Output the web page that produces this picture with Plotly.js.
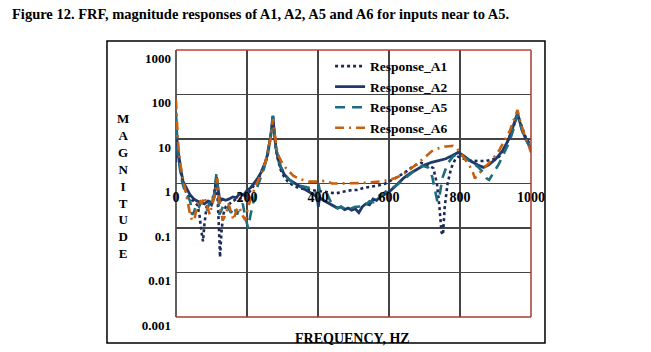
<!DOCTYPE html>
<html>
<head>
<meta charset="utf-8">
<script src="https://cdn.plot.ly/plotly-3.0.1.min.js"></script>
<style>html,body{margin:0;padding:0;background:#fff;}#chart{width:651px;height:352px;}</style>
</head>
<body>
<div id="chart"></div>
<script>
// ---- data ----
const seriesNames = ['Response_A1', 'Response_A2', 'Response_A5', 'Response_A6'];
const xTickVals = [0, 200, 400, 600, 800, 1000];
const yTickVals = [0.001, 0.01, 0.1, 1, 10, 100, 1000];
const yTickText = ['0.001', '0.01', '0.1', '1', '10', '100', '1000'];

const freqA1 = [0,2,5,10,15,20,30,40,50,60,66,72,76,80,86,95,105,112,117,121,124,128,133,140,150,160,170,180,190,200,210,220,230,240,250,258,264,268,271,273,275,278,282,288,295,305,315,330,345,360,375,390,410,430,450,470,490,510,530,550,570,590,610,630,650,670,690,710,725,735,742,748,752,757,765,775,785,795,810,830,850,870,890,910,925,940,950,957,962,968,975,985,1000];
const magA1  = [5,12,6,2.5,1.5,1.0,0.6,0.45,0.4,0.33,0.2,0.08,0.05,0.12,0.3,0.4,0.5,1.0,0.5,0.1,0.022,0.08,0.2,0.3,0.35,0.4,0.45,0.45,0.5,0.55,0.7,0.9,1.2,1.7,2.6,4.2,7.5,13,22,30,19,10,5.5,3.2,2.0,1.4,1.1,0.9,0.8,0.75,0.72,0.7,0.68,0.62,0.6,0.65,0.7,0.72,0.8,0.85,0.9,1.0,1.2,1.5,1.9,2.5,2.9,2.6,2.2,1.0,0.3,0.08,0.07,0.3,1.0,2.2,3.3,4.0,3.6,3.3,3.2,3.2,3.4,4.0,6,11,18,28,38,26,18,11,7];

const freqA2 = [0,2,5,10,15,20,30,40,50,60,70,80,90,100,108,114,118,124,130,140,150,160,170,180,190,200,210,220,230,240,250,258,264,268,271,273,275,278,282,288,295,305,320,345,375,390,398,401,404,415,425,435,445,455,465,475,485,495,505,515,525,535,545,555,565,575,585,595,605,620,640,660,680,700,720,740,760,780,795,810,830,850,866,880,900,920,935,945,955,962,968,975,985,1000];
const magA2  = [3,11,6,3,1.8,1.1,0.75,0.55,0.45,0.4,0.38,0.35,0.4,0.33,0.5,1.4,0.8,0.4,0.45,0.42,0.45,0.5,0.48,0.6,0.55,0.7,0.8,1.0,1.3,1.8,2.8,4.5,8,14,24,33,20,11,6,3.5,2.3,1.6,1.2,0.9,0.65,0.55,0.5,0.3,0.48,0.42,0.38,0.33,0.3,0.28,0.3,0.26,0.28,0.25,0.27,0.22,0.3,0.35,0.33,0.45,0.42,0.5,0.55,0.62,0.7,0.9,1.3,1.7,2.1,2.6,3.0,3.3,3.6,4.3,5.0,4.2,3.2,2.6,2.3,2.6,3.5,5.5,9,15,25,38,25,16,10,6];

const freqA5 = [0,2,5,10,15,20,30,40,45,50,58,65,72,80,88,95,100,108,114,118,122,128,135,145,155,163,172,180,188,195,203,210,218,228,238,248,256,263,268,271,273,275,278,282,288,295,305,315,330,345,360,375,390,398,401,405,415,425,435,445,455,465,475,485,495,505,515,525,535,545,555,565,575,585,595,605,620,640,660,680,695,710,722,730,736,742,750,765,780,795,810,830,850,865,875,882,890,900,910,925,940,950,957,962,968,975,985,1000];
const magA5  = [40,15,5,2.5,1.3,0.9,0.55,0.4,0.2,0.22,0.35,0.3,0.4,0.3,0.25,0.4,0.35,0.6,1.7,0.8,0.2,0.25,0.35,0.3,0.22,0.3,0.2,0.3,0.35,0.18,0.1,0.2,0.4,0.8,1.3,2.2,4,7.5,14,25,33,20,11,6,3.6,2.4,1.7,1.3,1.0,0.9,0.85,0.8,0.75,0.5,1.0,0.7,0.65,0.6,0.4,0.3,0.28,0.3,0.27,0.25,0.28,0.3,0.3,0.35,0.33,0.4,0.38,0.5,0.55,0.6,0.7,0.75,0.9,1.2,1.6,2.2,2.5,2.3,1.4,0.7,0.4,0.5,1.3,2.8,4.0,4.8,4.0,3.0,2.4,1.8,1.3,1.2,1.5,2.0,2.8,5,9,16,25,35,24,15,10,6];

const freqA6 = [0,2,5,10,15,20,25,30,35,40,45,52,58,65,72,80,88,95,102,110,116,120,125,132,140,148,155,162,170,178,186,195,203,212,222,232,242,252,260,266,270,273,276,279,284,290,298,310,330,350,375,400,420,440,460,480,500,520,540,560,580,600,620,640,660,680,700,720,740,760,780,792,805,818,828,836,842,848,856,865,880,895,910,925,940,950,956,962,968,975,985,995,1000];
const magA6  = [75,30,10,3.5,1.8,1.2,0.8,0.5,0.3,0.2,0.15,0.15,0.3,0.45,0.35,0.5,0.3,0.2,0.35,0.6,1.3,0.6,0.25,0.15,0.2,0.35,0.22,0.15,0.25,0.3,0.2,0.15,0.3,0.5,0.8,1.2,1.8,3,5.5,10,18,28,17,10,6,4,3,2.2,1.5,1.25,1.1,1.1,1.15,1.0,1.0,1.0,1.0,1.02,1.05,1.08,1.12,1.2,1.35,1.6,2.1,2.8,3.8,5.3,6.2,6.8,7.0,6.0,4.5,3.2,2.4,1.8,1.3,1.5,1.8,2.1,2.8,3.8,5.5,9,15,25,35,45,28,18,10,6.5,5];

// ---- styling ----
const FONT = 'Liberation Serif, Times New Roman, serif';
const GRID = '#444444';
const RED = '#c0403a';

const traces = [
  {x: freqA1, y: magA1, name: seriesNames[0], mode: 'lines',
   line: {color: '#1c2a58', width: 2.6, dash: 'dot'}},
  {x: freqA2, y: magA2, name: seriesNames[1], mode: 'lines',
   line: {color: '#1f3a68', width: 2.8}},
  {x: freqA5, y: magA5, name: seriesNames[2], mode: 'lines',
   line: {color: '#1f6b80', width: 2.6, dash: '10px,7px'}},
  {x: freqA6, y: magA6, name: seriesNames[3], mode: 'lines',
   line: {color: '#c8600f', width: 2.6, dash: '9px,5px,2px,5px'}}
];

const layout = {
  width: 651, height: 352,
  margin: {l: 176, r: 120, t: 50, b: 35, pad: 0},
  paper_bgcolor: '#ffffff', plot_bgcolor: '#ffffff',
  showlegend: true,
  font: {family: FONT, color: '#000'},
  xaxis: {
    range: [0, 1000], tickvals: xTickVals, ticks: '',
    showgrid: true, gridcolor: GRID, gridwidth: 1.7,
    zeroline: false, showline: false,
    anchor: 'free', position: 0.5,
    ticklabelstandoff: 3,
    tickfont: {family: FONT, size: 14, weight: 'bold', color: '#000'}
  },
  yaxis: {
    type: 'log', range: [-3, 3], tickvals: yTickVals, ticktext: yTickText, ticks: '',
    showgrid: true, gridcolor: GRID, gridwidth: 1.7,
    zeroline: false, showline: false,
    ticklabelshift: 8, ticklabelstandoff: 4,
    tickfont: {family: FONT, size: 13, weight: 'bold', color: '#000'}
  },
  legend: {
    x: 0.434, y: 0.997, xanchor: 'left', yanchor: 'top',
    bgcolor: 'rgba(0,0,0,0)', borderwidth: 0,
    font: {family: FONT, size: 13.5, weight: 'bold', color: '#000'}
  },
  shapes: [
    {type: 'line', xref: 'paper', yref: 'paper', x0: 0, x1: 1, y0: 1, y1: 1, line: {color: RED, width: 1.5}, layer: 'above'},
    {type: 'line', xref: 'paper', yref: 'paper', x0: 0, x1: 1, y0: 0, y1: 0, line: {color: '#a83a32', width: 1.5}, layer: 'above'},
    {type: 'line', xref: 'paper', yref: 'paper', x0: 1, x1: 1, y0: 0, y1: 1, line: {color: '#a83a32', width: 1.5}, layer: 'above'},
    {type: 'line', xref: 'paper', yref: 'paper', x0: 0, x1: 0, y0: 0, y1: 1, line: {color: GRID, width: 1.7}, layer: 'below'},
    {type: 'rect', xref: 'paper', yref: 'paper', x0: -0.1944, x1: 1.0394, y0: -0.0974, y1: 1.0337, line: {color: '#000', width: 1.5}, fillcolor: 'rgba(0,0,0,0)', layer: 'above'}
  ],
  annotations: [
    {text: 'Figure 12. FRF, magnitude responses of A1, A2, A5 and A6 for inputs near to A5.',
     xref: 'paper', yref: 'paper', x: -0.4676, y: 1.135, xanchor: 'left', yanchor: 'middle', showarrow: false,
     font: {family: FONT, size: 14.5, weight: 'bold', color: '#000'}},
    {text: 'M<br>A<br>G<br>N<br>I<br>T<br>U<br>D<br>E',
     xref: 'paper', yref: 'paper', x: -0.149, y: 0.49, xanchor: 'center', yanchor: 'middle', showarrow: false,
     font: {family: FONT, size: 13, weight: 'bold', color: '#000'}},
    {text: 'FREQUENCY, HZ',
     xref: 'paper', yref: 'paper', x: 0.496, y: -0.082, xanchor: 'center', yanchor: 'middle', showarrow: false,
     font: {family: FONT, size: 14, weight: 'bold', color: '#000'}}
  ]
};

Plotly.newPlot('chart', traces, layout, {displayModeBar: false, staticPlot: true});
</script>
</body>
</html>
